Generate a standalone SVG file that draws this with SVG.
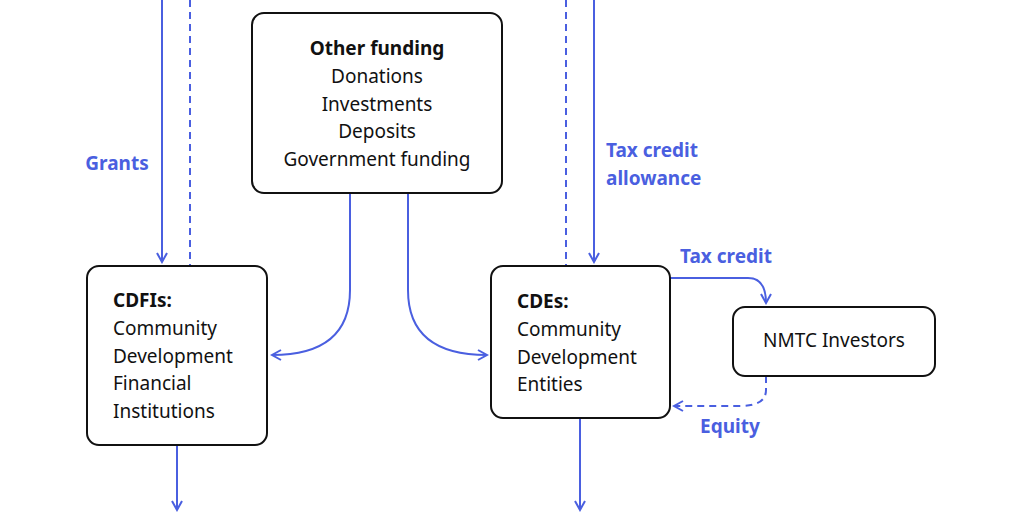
<svg xmlns="http://www.w3.org/2000/svg" width="1024" height="512" viewBox="0 0 1024 512">
<style>
.box{fill:#fff;stroke:#111;stroke-width:2}
.t{font-family:"Noto Sans","Liberation Sans",Arial,sans-serif;font-size:19px;fill:#111}
.b{font-weight:bold}
.c{fill:none;stroke:#4a5fe0;stroke-width:2}
.d{stroke-dasharray:7 5}
.l{font-family:"Noto Sans","Liberation Sans",Arial,sans-serif;font-size:19px;font-weight:bold;fill:#4a5fe0}
</style>
<defs>
<marker id="a" viewBox="0 0 12 12" refX="10" refY="6" markerWidth="12" markerHeight="12" markerUnits="userSpaceOnUse" orient="auto">
<path d="M1 1 L10 6 L1 11" fill="none" stroke="#4a5fe0" stroke-width="2"/>
</marker>
</defs>
<rect width="1024" height="512" fill="#fff"/>
<g id="connectors">
<path class="c" d="M162 0 V262" marker-end="url(#a)"/>
<path class="c d" d="M190 0 V266"/>
<path class="c" d="M594 0 V262" marker-end="url(#a)"/>
<path class="c d" d="M566 0 V266"/>
<path class="c" d="M350 193 V290 Q350 355 272 355" marker-end="url(#a)"/>
<path class="c" d="M408 193 V290 Q408 355 487 355" marker-end="url(#a)"/>
<path class="c" d="M670 278 H748 Q766 278 766 303" marker-end="url(#a)"/>
<path class="c d" d="M766 376 V390 Q766 406 740 406 H674" marker-end="url(#a)"/>
<path class="c" d="M177 445 V510" marker-end="url(#a)"/>
<path class="c" d="M580 418 V510" marker-end="url(#a)"/>
<text class="l" x="117" y="170" text-anchor="middle">Grants</text>
<text class="l" x="606" y="157">Tax credit</text>
<text class="l" x="606" y="185">allowance</text>
<text class="l" x="680" y="263">Tax credit</text>
<text class="l" x="700" y="433">Equity</text>
</g>
<g id="other">
<rect class="box" x="252" y="13" width="250" height="180" rx="12"/>
<text class="t b" x="377" y="55" text-anchor="middle">Other funding</text>
<text class="t" x="377" y="83" text-anchor="middle">Donations</text>
<text class="t" x="377" y="111" text-anchor="middle">Investments</text>
<text class="t" x="377" y="138" text-anchor="middle">Deposits</text>
<text class="t" x="377" y="166" text-anchor="middle">Government funding</text>
</g>
<g id="cdfi">
<rect class="box" x="87" y="266" width="180" height="179" rx="12"/>
<text class="t b" x="113" y="307">CDFIs:</text>
<text class="t" x="113" y="335">Community</text>
<text class="t" x="113" y="363">Development</text>
<text class="t" x="113" y="390">Financial</text>
<text class="t" x="113" y="418">Institutions</text>
</g>
<g id="cde">
<rect class="box" x="491" y="266" width="179" height="152" rx="12"/>
<text class="t b" x="517" y="308">CDEs:</text>
<text class="t" x="517" y="336">Community</text>
<text class="t" x="517" y="364">Development</text>
<text class="t" x="517" y="391">Entities</text>
</g>
<g id="nmtc">
<rect class="box" x="733" y="307" width="202" height="69" rx="12"/>
<text class="t" x="834" y="347" text-anchor="middle">NMTC Investors</text>
</g>
</svg>
